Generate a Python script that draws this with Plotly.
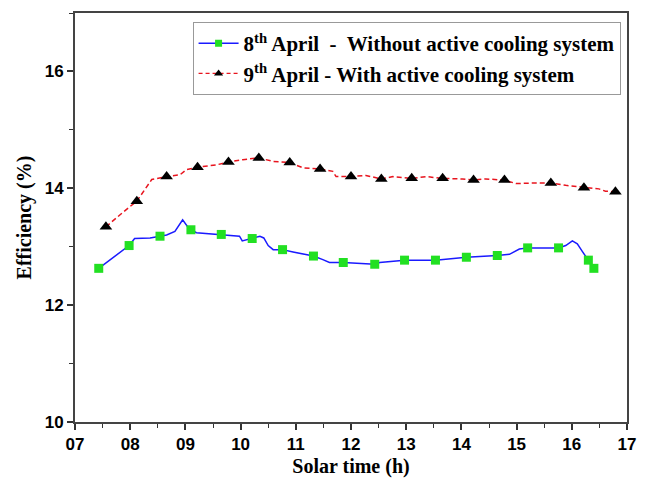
import plotly.graph_objects as go

# ---- data ----
# 8th April - without active cooling (line trace)
t_8 = [7.43, 7.54, 7.75, 7.98, 8.08, 8.36, 8.54, 8.66, 8.81, 8.95, 9.05, 9.10, 9.20,
       9.65, 9.98, 10.03, 10.21, 10.35, 10.42, 10.50, 10.59, 10.76, 10.95, 11.32,
       11.49, 11.61, 11.86, 12.43, 12.52, 12.97, 13.53, 14.09, 14.65, 14.87, 15.05,
       15.20, 15.76, 15.89, 16.01, 16.10, 16.19, 16.30, 16.40]
eff_8 = [12.63, 12.71, 12.86, 13.02, 13.14, 13.15, 13.18, 13.20, 13.26, 13.46, 13.33,
         13.29, 13.24, 13.21, 13.18, 13.10, 13.14, 13.18, 13.15, 13.02, 12.95, 12.95,
         12.91, 12.84, 12.78, 12.73, 12.73, 12.70, 12.73, 12.77, 12.77, 12.82, 12.85,
         12.87, 12.96, 12.98, 12.98, 13.02, 13.10, 13.05, 12.92, 12.77, 12.63]
# 8th April markers
t_8_mk = [7.43, 7.98, 8.54, 9.10, 9.65, 10.21, 10.76, 11.32, 11.86, 12.43, 12.97,
          13.53, 14.09, 14.65, 15.20, 15.76, 16.30, 16.40]
eff_8_mk = [12.63, 13.02, 13.18, 13.29, 13.21, 13.14, 12.95, 12.84, 12.73, 12.70,
            12.77, 12.77, 12.82, 12.85, 12.98, 12.98, 12.77, 12.63]

# 9th April - with active cooling (line trace)
t_9 = [7.56, 7.69, 7.87, 8.12, 8.30, 8.39, 8.66, 8.90, 9.02, 9.22, 9.56, 9.78, 10.04,
       10.33, 10.59, 10.89, 11.13, 11.44, 11.67, 11.73, 12.00, 12.27, 12.55, 12.76,
       13.10, 13.36, 13.66, 14.02, 14.22, 14.44, 14.78, 14.99, 15.29, 15.62, 15.89,
       16.22, 16.49, 16.61, 16.79]
eff_9 = [13.34, 13.45, 13.59, 13.78, 14.03, 14.15, 14.20, 14.23, 14.32, 14.36, 14.40,
         14.45, 14.49, 14.52, 14.46, 14.44, 14.35, 14.33, 14.29, 14.20, 14.20, 14.22,
         14.16, 14.20, 14.17, 14.20, 14.17, 14.16, 14.14, 14.16, 14.14, 14.08, 14.09,
         14.09, 14.05, 14.01, 13.99, 13.95, 13.94]
# 9th April markers
t_9_mk = [7.56, 8.12, 8.66, 9.22, 9.78, 10.33, 10.89, 11.44, 12.00, 12.55, 13.10,
          13.66, 14.22, 14.78, 15.62, 16.22, 16.79]
eff_9_mk = [13.34, 13.78, 14.20, 14.36, 14.45, 14.52, 14.44, 14.33, 14.20, 14.16,
            14.17, 14.17, 14.14, 14.14, 14.09, 14.01, 13.94]

x_tickvals = [7, 8, 9, 10, 11, 12, 13, 14, 15, 16, 17]
x_ticktext = ["07", "08", "09", "10", "11", "12", "13", "14", "15", "16", "17"]
y_tickvals = [10, 12, 14, 16]

name_8 = "<b>8<sup>th</sup> April  -  Without active cooling system</b>"
name_9 = "<b>9<sup>th</sup> April - With active cooling system</b>"

BLUE = "#1a1aff"
GREEN = "#22e022"
RED = "#e8141e"

fig = go.Figure()

# lines
fig.add_trace(go.Scatter(x=t_8, y=eff_8, mode="lines", line=dict(color=BLUE, width=1.5),
                         showlegend=False, hoverinfo="skip"))
fig.add_trace(go.Scatter(x=t_9, y=eff_9, mode="lines",
                         line=dict(color=RED, width=1.5, dash="5px,3px"),
                         showlegend=False, hoverinfo="skip"))
# markers
fig.add_trace(go.Scatter(x=t_8_mk, y=eff_8_mk, mode="markers",
                         marker=dict(symbol="square", size=9, color=GREEN,
                                     line=dict(width=0)),
                         showlegend=False))
fig.add_trace(go.Scatter(x=t_9_mk, y=eff_9_mk, mode="markers",
                         marker=dict(symbol="triangle-up", size=11, color="black",
                                     line=dict(width=0)),
                         showlegend=False))
# legend entries
fig.add_trace(go.Scatter(x=[None], y=[None], mode="lines+markers", name=name_8,
                         line=dict(color=BLUE, width=1.5),
                         marker=dict(symbol="square", size=7, color=GREEN)))
fig.add_trace(go.Scatter(x=[None], y=[None], mode="lines+markers", name=name_9,
                         line=dict(color=RED, width=1.2, dash="4px,3px"),
                         marker=dict(symbol="triangle-up", size=8, color="black")))

tickfont = dict(family="Liberation Sans, Arial, sans-serif", size=17, color="black",
                weight="bold")
titlefont = dict(family="Liberation Serif, Times New Roman, serif", size=20,
                 color="black", weight="bold")

fig.update_xaxes(range=[7, 17], tickvals=x_tickvals, ticktext=x_ticktext,
                 ticks="outside", ticklen=6, tickwidth=1.5, tickcolor="#333",
                 minor=dict(dtick=0.5, ticks="outside", ticklen=4, tickwidth=1.2,
                            tickcolor="#333"),
                 showline=True, linecolor="#444", linewidth=2, mirror=True,
                 showgrid=False, zeroline=False, tickfont=tickfont,
                 title=dict(text="Solar time (h)", font=titlefont, standoff=6))
fig.update_yaxes(range=[10, 17], tickvals=y_tickvals,
                 ticks="outside", ticklen=6, tickwidth=1.5, tickcolor="#333",
                 minor=dict(dtick=1, ticks="outside", ticklen=4, tickwidth=1.2,
                            tickcolor="#333"),
                 showline=True, linecolor="#444", linewidth=2, mirror=True,
                 showgrid=False, zeroline=False, tickfont=tickfont,
                 title=dict(text="Efficiency (%)", font=titlefont, standoff=8))

fig.update_layout(
    width=647, height=485,
    margin=dict(l=75, r=19, t=11, b=59),
    paper_bgcolor="white", plot_bgcolor="white",
    legend=dict(x=0.213, y=0.978, xanchor="left", yanchor="top",
                bgcolor="white", bordercolor="#999", borderwidth=1,
                font=dict(family="Liberation Serif, Times New Roman, serif",
                          size=21, color="black"),
                itemwidth=40, tracegroupgap=0),
)

fig.write_html("out.html")
